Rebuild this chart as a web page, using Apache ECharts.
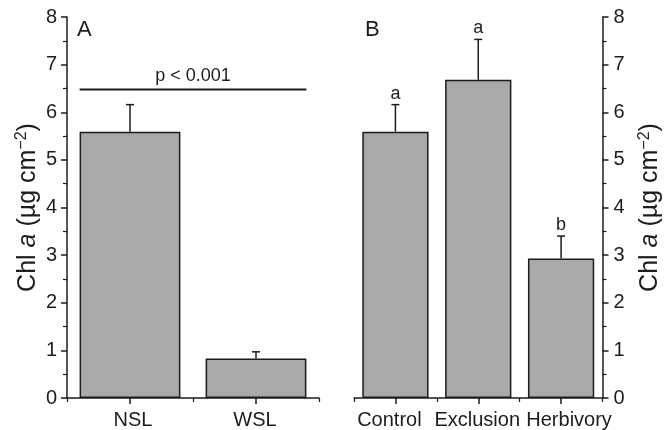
<!DOCTYPE html>
<html><head><meta charset="utf-8">
<script src="https://cdn.jsdelivr.net/npm/echarts@6/dist/echarts.min.js"></script>
<style>html,body{margin:0;padding:0;background:#fff}#c{width:664px;height:430px}</style>
</head><body><div id="c"></div>
<script>
// ---- data ----
const catsA = ['NSL', 'WSL'];
const meanA = [5.59, 0.83];
const seA = [0.57, 0.14];
const catsB = ['Control', 'Exclusion', 'Herbivory'];
const meanB = [5.59, 6.68, 2.93];
const seB = [0.57, 0.85, 0.47];
const lettersB = ['a', 'a', 'b'];
const pLineValue = 6.48;
const pLabel = 'p < 0.001';
const yMin = 0, yMax = 8, yStep = 1;
const panelLabels = ['A', 'B'];

const FONT = '"Liberation Sans", Arial, Helvetica, sans-serif';
const INK = '#1c1c1c';
const BAR = '#a9a9a9';

const chart = echarts.init(document.getElementById('c'));

function errItem(letters) {
  return function (params, api) {
    const x = api.value(0), m = api.value(1), t = api.value(2);
    const p0 = api.coord([x, m]);
    const p1 = api.coord([x, t]);
    const children = [
      { type: 'line', shape: { x1: p0[0], y1: p0[1], x2: p1[0], y2: p1[1] }, style: { stroke: INK, lineWidth: 1.5 } },
      { type: 'line', shape: { x1: p1[0] - 4, y1: p1[1], x2: p1[0] + 4, y2: p1[1] }, style: { stroke: INK, lineWidth: 1.5 } }
    ];
    if (letters) {
      children.push({ type: 'text', x: p1[0], y: p1[1] - 2, style: { text: letters[params.dataIndex], fill: INK, font: '18px ' + FONT, align: 'center', verticalAlign: 'bottom' } });
    }
    return { type: 'group', children };
  };
}

const nameRich = {
  n: { fontFamily: FONT, fontSize: 25, color: INK },
  i: { fontFamily: FONT, fontSize: 25, color: INK, fontStyle: 'italic' },
  s: { fontFamily: FONT, fontSize: 16, color: INK, verticalAlign: 'top', padding: [0, 0, 12, 0] }
};
const yName = '{n|Chl }{i|a}{n| (µg cm}{s|−2}{n|)}';

function yAxis(grid, pos, gap, margin) {
  return {
    type: 'value', gridIndex: grid, position: pos, min: yMin, max: yMax, interval: yStep,
    name: yName, nameLocation: 'middle', nameGap: gap, nameRotate: 90,
    nameTextStyle: { rich: nameRich },
    axisLine: { show: true, lineStyle: { color: INK, width: 1.5 } },
    axisTick: { show: true, length: 6, lineStyle: { color: INK, width: 1.5 } },
    minorTick: { show: true, splitNumber: 2, length: 4, lineStyle: { color: INK, width: 1.2 } },
    splitLine: { show: false },
    axisLabel: { fontFamily: FONT, fontSize: 20, color: INK, margin: margin }
  };
}

// small horizontal nudges of category labels (px), as in the original figure
const labelShift = { 'Control': -6, 'Exclusion': -1, 'Herbivory': 8, 'NSL': 3, 'WSL': -1 };
const labelRich = {};
Object.keys(labelShift).forEach(function (k) {
  const s = labelShift[k];
  labelRich[k] = { fontFamily: FONT, fontSize: 20, color: INK,
    padding: [0, s < 0 ? -2 * s : 0, 0, s > 0 ? 2 * s : 0] };
});

function xAxes(grid, cats) {
  return [
    {
      type: 'category', gridIndex: grid, data: cats, position: 'bottom',
      axisLine: { show: true, onZero: false, lineStyle: { color: INK, width: 1.5 } },
      axisTick: { show: true, alignWithLabel: true, length: 6, lineStyle: { color: INK, width: 1.5 } },
      axisLabel: { fontFamily: FONT, fontSize: 20, color: INK, margin: 12, interval: 0, hideOverlap: false,
        formatter: function (v) { return '{' + v + '|' + v + '}'; }, rich: labelRich }
    },
    {
      type: 'category', gridIndex: grid, data: cats, position: 'bottom',
      axisLine: { show: false, onZero: false },
      axisTick: { show: true, length: 4, lineStyle: { color: INK, width: 1.2 } },
      axisLabel: { show: false }
    }
  ];
}

chart.setOption({
  animation: false,
  grid: [
    { left: 67, top: 17, width: 252, height: 381 },
    { left: 354, top: 17, width: 252, height: 381 }
  ],
  title: [
    { text: panelLabels[0], left: 77, top: 19, padding: 0, textStyle: { fontFamily: FONT, fontSize: 22, fontWeight: 'normal', color: INK } },
    { text: panelLabels[1], left: 365, top: 19, padding: 0, textStyle: { fontFamily: FONT, fontSize: 22, fontWeight: 'normal', color: INK } }
  ],
  xAxis: [...xAxes(0, catsA), ...xAxes(1, catsB)],
  yAxis: [yAxis(0, 'left', 25, 10), yAxis(1, 'right', 34, 11)],
  series: [
    { type: 'bar', xAxisIndex: 0, yAxisIndex: 0, data: meanA, barWidth: '80%',
      itemStyle: { color: BAR, borderColor: INK, borderWidth: 1.5 } },
    { type: 'custom', xAxisIndex: 0, yAxisIndex: 0, renderItem: errItem(null),
      data: meanA.map((m, i) => [i, m, m + seA[i]]), z: 3 },
    { type: 'custom', xAxisIndex: 0, yAxisIndex: 0, z: 3,
      data: [[0, catsA.length - 1, pLineValue]],
      renderItem: function (params, api) {
        const a = api.coord([api.value(0), api.value(2)]);
        const b = api.coord([api.value(1), api.value(2)]);
        const half = api.size([1, 0])[0] * 0.4;
        const x1 = a[0] - half, x2 = b[0] + half;
        return { type: 'group', children: [
          { type: 'line', shape: { x1: x1, y1: a[1], x2: x2, y2: a[1] }, style: { stroke: INK, lineWidth: 2 } },
          { type: 'text', x: (x1 + x2) / 2, y: a[1] - 4, style: { text: pLabel, fill: INK, font: '18px ' + FONT, align: 'center', verticalAlign: 'bottom' } }
        ] };
      } },
    { type: 'bar', xAxisIndex: 2, yAxisIndex: 1, data: meanB, barWidth: '80%',
      itemStyle: { color: BAR, borderColor: INK, borderWidth: 1.5 } },
    { type: 'custom', xAxisIndex: 2, yAxisIndex: 1, renderItem: errItem(lettersB),
      data: meanB.map((m, i) => [i, m, m + seB[i]]), z: 3 }
  ]
});
</script>
</body></html>
